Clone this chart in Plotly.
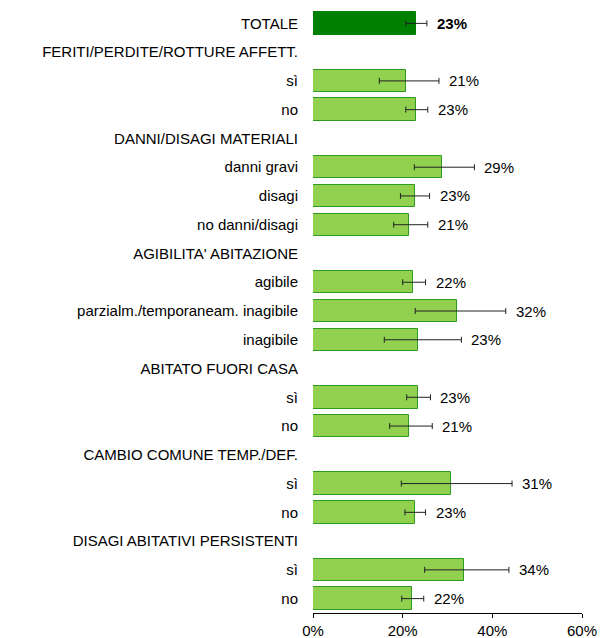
import plotly.graph_objects as go

# Row labels (group headers have no bar)
labels = [
    "TOTALE",
    "FERITI/PERDITE/ROTTURE AFFETT.", "sì", "no",
    "DANNI/DISAGI MATERIALI", "danni gravi", "disagi", "no danni/disagi",
    "AGIBILITA' ABITAZIONE", "agibile", "parzialm./temporaneam. inagibile", "inagibile",
    "ABITATO FUORI CASA", "sì", "no",
    "CAMBIO COMUNE TEMP./DEF.", "sì", "no",
    "DISAGI ABITATIVI PERSISTENTI", "sì", "no",
]
# Percent values, lower and upper confidence bounds
values = [23.0, None, 20.8, 23.0, None, 28.8, 22.7, 21.4, None, 22.4, 32.1, 23.4,
          None, 23.4, 21.4, None, 30.7, 22.7, None, 33.7, 22.1]
lower = [20.7, None, 14.8, 20.7, None, 22.6, 19.5, 18.0, None, 20.0, 22.8, 15.9,
         None, 20.9, 17.1, None, 19.7, 20.5, None, 24.9, 19.8]
upper = [25.4, None, 28.1, 25.6, None, 36.0, 26.0, 25.6, None, 25.1, 43.0, 33.1,
         None, 26.2, 26.6, None, 44.4, 25.1, None, 43.7, 24.7]
x_ticks = [0, 20, 40, 60]

DARK = "#008000"
LIGHT = "#92D050"
EDGE = "#2E9A1E"
FONT = "Liberation Sans, Arial"

idx = [i for i, v in enumerate(values) if v is not None]
xs = [values[i] for i in idx]
err_plus = [upper[i] - values[i] for i in idx]
err_minus = [values[i] - lower[i] for i in idx]
fills = [DARK if labels[i] == "TOTALE" else LIGHT for i in idx]
edges = [DARK if labels[i] == "TOTALE" else EDGE for i in idx]

fig = go.Figure()
fig.add_trace(go.Bar(
    x=xs, y=idx, orientation="h", width=0.78,
    marker=dict(color=fills, line=dict(color=edges, width=1)),
    error_x=dict(type="data", symmetric=False, array=err_plus, arrayminus=err_minus,
                 color="#222222", thickness=1, width=3),
    hoverinfo="skip", showlegend=False,
))

# Value labels placed just past the upper end of each error bar
for i in idx:
    bold = labels[i] == "TOTALE"
    txt = f"{round(values[i])}%"
    fig.add_annotation(
        x=upper[i], y=i, text=f"<b>{txt}</b>" if bold else txt,
        xanchor="left", yanchor="middle", xshift=8, showarrow=False,
        font=dict(family=FONT, size=15, color="#000000"),
    )

fig.update_layout(
    width=601, height=638,
    margin=dict(l=313, r=19, t=9, b=25),
    paper_bgcolor="white", plot_bgcolor="white",
    bargap=0,
    font=dict(family=FONT, size=15, color="#000000"),
)
fig.update_xaxes(
    range=[0, 60], tickvals=x_ticks, ticktext=[f"{t}%" for t in x_ticks],
    showgrid=False, zeroline=False, showline=True, linecolor="#000000", linewidth=1,
    ticks="outside", ticklen=4, tickcolor="#000000",
    tickfont=dict(size=15), fixedrange=True, automargin=False,
)
fig.update_yaxes(
    range=[len(labels) - 0.5, -0.5], tickvals=list(range(len(labels))), ticktext=labels,
    showgrid=False, zeroline=False, showline=False, ticks="",
    ticklabelstandoff=14, tickfont=dict(size=15), fixedrange=True, automargin=False,
)

fig.write_html("out.html")
